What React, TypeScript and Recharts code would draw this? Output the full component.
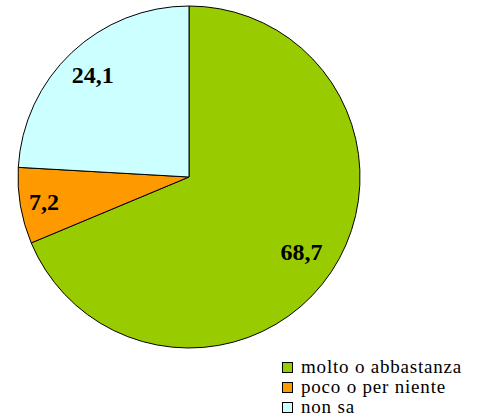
import { PieChart, Pie, Cell, Legend } from 'recharts';

const categories = ['molto o abbastanza', 'poco o per niente', 'non sa'];
const shares = [68.7, 7.2, 24.1];
const colors = ['#99CC00', '#FF9900', '#CCFFFF'];

const data = categories.map((name, i) => ({ name, value: shares[i] }));

const FONT = "'Liberation Serif', 'Tinos', 'Times New Roman', Times, 'DejaVu Serif', serif";
const RAD = Math.PI / 180;

// label distance as a fraction of the radius, per slice
const labelRatio = [0.79, 0.86, 0.82];

function renderLabel(props: any) {
  const { cx, cy, midAngle, outerRadius, value, index } = props;
  const r = outerRadius * labelRatio[index];
  const x = cx + r * Math.cos(-midAngle * RAD);
  const y = cy + r * Math.sin(-midAngle * RAD);
  return (
    <text x={x} y={y} textAnchor="middle" dominantBaseline="central" fill="#000"
      fontFamily={FONT} fontSize={24} fontWeight="bold">
      {value.toFixed(1).replace('.', ',')}
    </text>
  );
}

function renderLegend() {
  return (
    <div style={{ fontFamily: FONT, fontSize: 19, letterSpacing: 0.8, lineHeight: '20px', color: '#000' }}>
      {categories.map((c, i) => (
        <div key={c} style={{ display: 'flex', alignItems: 'center', height: 20 }}>
          <span style={{ width: 9, height: 9, background: colors[i], border: '1px solid #000', marginRight: 8, flex: 'none' }} />
          <span>{c}</span>
        </div>
      ))}
    </div>
  );
}

export default function App() {
  return (
    <div style={{ position: 'absolute', left: 0, top: 0, width: 480, height: 418, background: '#fff' }}>
      <PieChart width={480} height={418} margin={{ top: 0, right: 0, bottom: 0, left: 0 }}>
        <Pie data={data} dataKey="value" nameKey="name" cx={189} cy={177} outerRadius={171}
          startAngle={90} endAngle={-270} stroke="#000" strokeWidth={1}
          label={renderLabel} labelLine={false} isAnimationActive={false}>
          {data.map((d, i) => <Cell key={d.name} fill={colors[i]} />)}
        </Pie>
        <Legend content={renderLegend} wrapperStyle={{ position: 'absolute', left: 282, top: 357, width: 198 }} />
      </PieChart>
    </div>
  );
}
